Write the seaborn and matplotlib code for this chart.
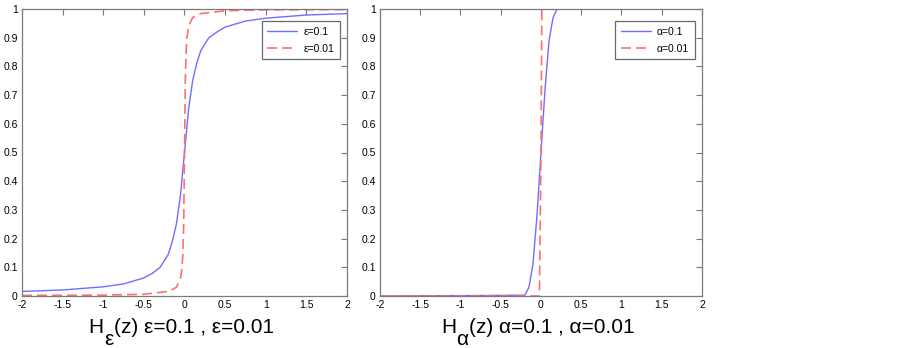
import numpy as np
import pandas as pd
import seaborn as sns
import matplotlib
matplotlib.use("Agg")
import matplotlib.pyplot as plt

# ---- data ----
z_eps01 = [-2, -1.5, -1, -0.75, -0.5, -0.4, -0.3, -0.2, -0.15, -0.1, -0.05, 0,
           0.05, 0.1, 0.15, 0.2, 0.3, 0.4, 0.5, 0.75, 1, 1.5, 2]
h_eps01 = [0.016, 0.021, 0.032, 0.042, 0.063, 0.078, 0.10, 0.145, 0.19, 0.25, 0.35, 0.5,
           0.65, 0.75, 0.81, 0.855, 0.90, 0.92, 0.937, 0.958, 0.968, 0.979, 0.984]

z_eps001 = [-2, -1, -0.5, -0.2, -0.1, -0.05, -0.03, -0.02, -0.01, 0,
            0.01, 0.02, 0.03, 0.05, 0.1, 0.2, 0.5, 1, 2]
h_eps001 = [0.002, 0.003, 0.006, 0.016, 0.03, 0.06, 0.10, 0.15, 0.25, 0.5,
            0.75, 0.85, 0.90, 0.94, 0.97, 0.984, 0.994, 0.997, 0.998]

z_a01 = [-2, -0.55, -0.2, -0.15, -0.1, -0.05, 0, 0.05, 0.1, 0.15, 0.2, 2]
h_a01 = [0.0, 0.002, 0.003, 0.03, 0.11, 0.28, 0.5, 0.72, 0.89, 0.97, 1.0, 1.0]

z_a001 = [-2, -0.02, 0, 0.01, 2]
h_a001 = [0.0, 0.0, 0.5, 1.0, 1.0]

x_ticks = [-2, -1.5, -1, -0.5, 0, 0.5, 1, 1.5, 2]
x_ticklabels = ["-2", "-1.5", "-1", "-0.5", "0", "0.5", "1", "1.5", "2"]
y_ticks = [0, 0.1, 0.2, 0.3, 0.4, 0.5, 0.6, 0.7, 0.8, 0.9, 1]
y_ticklabels = ["0", "0.1", "0.2", "0.3", "0.4", "0.5", "0.6", "0.7", "0.8", "0.9", "1"]

sns.set_style("white")
plt.rcParams["font.family"] = ["Liberation Sans", "DejaVu Sans"]
plt.rcParams["text.color"] = "black"

BLUE = "#6f6fff"
RED = "#ff6f6f"

fig = plt.figure(figsize=(9.03, 3.48), dpi=100)
W, H = 903, 348
ax1 = fig.add_axes([22 / W, (H - 296) / H, 325 / W, 287 / H])
ax2 = fig.add_axes([380 / W, (H - 296) / H, 322 / W, 287 / H])

panels = [
    (ax1, z_eps01, h_eps01, z_eps001, h_eps001, "ε=0.1", "ε=0.01",
     ("H", "ε", "(z) ε=0.1 , ε=0.01")),
    (ax2, z_a01, h_a01, z_a001, h_a001, "α=0.1", "α=0.01",
     ("H", "α", "(z) α=0.1 , α=0.01")),
]

renderer = fig.canvas.get_renderer()
LABEL_FS = 15

for ax, zb, hb, zr, hr, lb, lr, title in panels:
    sns.lineplot(x=zb, y=hb, ax=ax, color=BLUE, lw=1.0, label=lb, sort=False)
    sns.lineplot(x=zr, y=hr, ax=ax, color=RED, lw=1.2, label=lr, sort=False)
    ax.lines[1].set_dashes([6, 3])
    ax.set_xlim(-2, 2)
    ax.set_ylim(0, 1)
    ax.set_xticks(x_ticks)
    ax.set_xticklabels(x_ticklabels)
    ax.set_yticks(y_ticks)
    ax.set_yticklabels(y_ticklabels)
    ax.tick_params(direction="in", length=4, width=0.8, color="#777777",
                   labelsize=7.5, labelcolor="black", top=True, right=True, pad=3)
    for sp in ax.spines.values():
        sp.set_color("#7a7a7a")
        sp.set_linewidth(0.9)
        sp.set_visible(True)
    ax.set_xlabel("")
    ax.set_ylabel("")
    leg = ax.legend(loc="upper right", fontsize=7.5, handlelength=2.9,
                    frameon=True, fancybox=False, borderpad=0.5,
                    labelspacing=0.7, handletextpad=0.6,
                    bbox_to_anchor=(0.993, 0.975))
    leg.get_frame().set_edgecolor("#444444")
    leg.get_frame().set_linewidth(0.9)
    for t in leg.get_texts():
        t.set_color("black")
    leg.get_lines()[1].set_dashes([6, 3])

    # composite x-label: H, low subscript, rest
    bbox = ax.get_position()
    cx = (bbox.x0 + bbox.x1) / 2 * W - 3
    base_y = H - 333
    sub_y = H - 345
    parts = []
    for txt, yb in [(title[0], base_y), (title[1], sub_y), (title[2], base_y)]:
        t = fig.text(0, yb / H, txt, fontsize=LABEL_FS, va="baseline", ha="left",
                     color="black")
        parts.append(t)
    widths = [p.get_window_extent(renderer).width for p in parts]
    total = sum(widths) + 1
    x = cx - total / 2
    for p, w in zip(parts, widths):
        p.set_x(x / W)
        x += w
    parts[2].set_x((parts[2].get_position()[0] * W + 1) / W)

fig.savefig("out.png", dpi=100)
